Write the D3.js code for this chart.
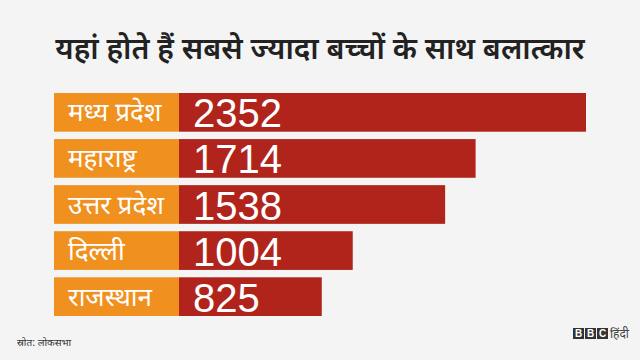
<!DOCTYPE html>
<html><head><meta charset="utf-8">
<script src="https://cdn.jsdelivr.net/npm/d3@7"></script>
<style>html,body{margin:0;padding:0;background:#f4f4f4;}</style>
</head><body>
<svg id="c" width="640" height="360"></svg>
<script>
const categories = ["मध्य प्रदेश", "महाराष्ट्र", "उत्तर प्रदेश", "दिल्ली", "राजस्थान"];
const values = [2352, 1714, 1538, 1004, 825];
const title = "यहां होते हैं सबसे ज्यादा बच्चों के साथ बलात्कार";
const source = "स्रोत: लोकसभा";

const svg = d3.select("#c");
const hindi = "'Noto Sans Devanagari','Noto Sans','Lohit Devanagari',sans-serif";
svg.append("rect").attr("width",640).attr("height",360).attr("fill","#f4f4f4");

svg.append("text").attr("x",320).attr("y",59).attr("text-anchor","middle")
  .attr("font-family",hindi).attr("font-size",30).attr("font-weight",600)
  .attr("fill","#222").text(title);

const x = d3.scaleLinear().domain([0, 2352]).range([179, 586]);
const y = d3.scaleBand().domain(categories).range([93, 316]).paddingInner(0.16).paddingOuter(0);

const g = svg.append("g");
const rows = g.selectAll("g.row").data(categories).join("g").attr("class","row");
rows.append("rect").attr("x",54).attr("y",d=>y(d)).attr("width",x(0)-54).attr("height",y.bandwidth()).attr("fill","#f0911f");
rows.append("rect").attr("x",x(0)).attr("y",d=>y(d)).attr("width",(d,i)=>x(values[i])-x(0)).attr("height",y.bandwidth()).attr("fill","#b0241c");
rows.append("text").attr("x",68).attr("y",d=>y(d)+y.bandwidth()/2+9).attr("font-family",hindi)
  .attr("font-size",26).attr("fill","#fff").text(d=>d);
rows.append("text").attr("x",193).attr("y",d=>y(d)+y.bandwidth()/2+15).attr("font-family","'Liberation Sans',Arial,sans-serif")
  .attr("font-size",40).attr("fill","#fff").text((d,i)=>values[i]);

svg.append("text").attr("x",17).attr("y",346).attr("font-family",hindi).attr("font-size",10).attr("fill","#333").text(source);

const logo = svg.append("g");
["B","B","C"].forEach((l,i)=>{
  logo.append("rect").attr("x",573+i*12).attr("y",328).attr("width",11).attr("height",11).attr("fill","#333");
  logo.append("text").attr("x",578.5+i*12).attr("y",337).attr("text-anchor","middle").attr("font-family","'Liberation Sans',Arial,sans-serif").attr("font-weight","bold").attr("font-size",10).attr("fill","#fff").text(l);
});
svg.append("text").attr("x",610).attr("y",338).attr("font-family",hindi).attr("font-size",12).attr("fill","#444").text("हिंदी");
</script>
</body></html>
